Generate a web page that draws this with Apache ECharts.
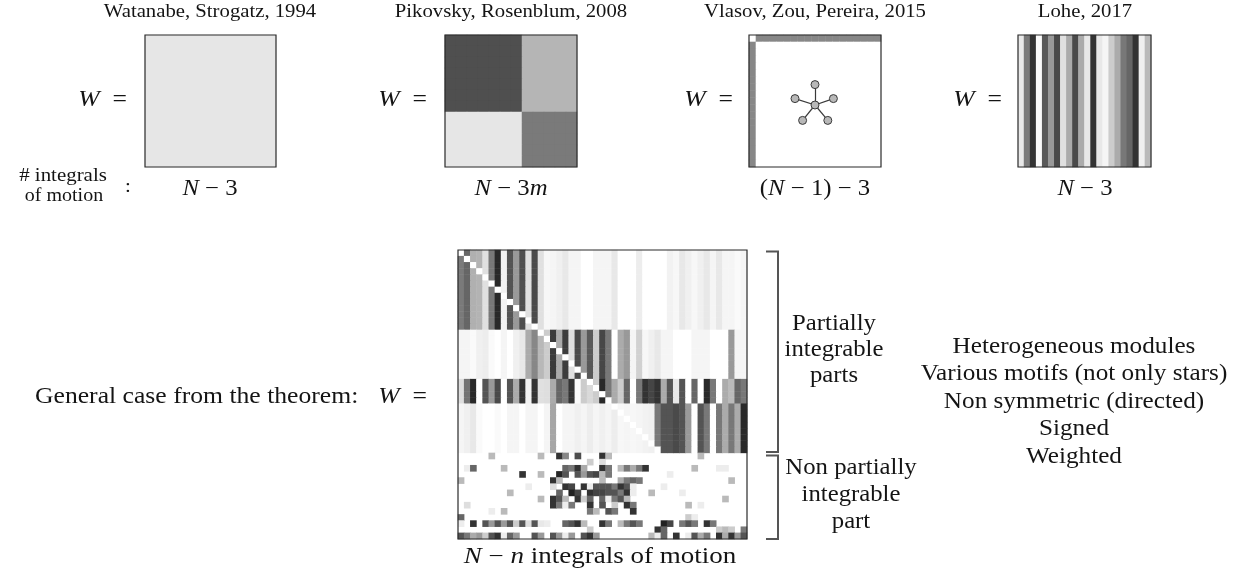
<!DOCTYPE html>
<html><head><meta charset="utf-8">
<script src="https://cdn.jsdelivr.net/npm/echarts@6.0.0/dist/echarts.min.js"></script>
<style>html,body{margin:0;padding:0;background:#fff}#c{width:1242px;height:578px}</style>
</head><body><div id="c"></div>
<script>
// ---------------- DATA ----------------
const panelTitles = ['Watanabe, Strogatz, 1994', 'Pikovsky, Rosenblum, 2008', 'Vlasov, Zou, Pereira, 2015', 'Lohe, 2017'];
const panelCounts = ['{i|N} − 3', '{i|N} − 3{i|m}', '({i|N} − 1) − 3', '{i|N} − 3'];

// Watanabe–Strogatz: uniform coupling (darkness 0..1)
const wsValue = 0.10;
// Pikovsky–Rosenblum: two-population blocks
const prBlockSizes = [7, 5];
const prBlockValues = [[0.69, 0.29], [0.10, 0.52]];
// Vlasov–Zou–Pereira: star hub row / column
const vzpSize = 19;
const vzpHubValue = 0.47;
const starNodes = [[0, -0.1], [0, 0.92], [-1.0, 0.22], [0.92, 0.22], [-0.62, -0.87], [0.64, -0.87]];
const starLinks = [[0, 1], [0, 2], [0, 3], [0, 4], [0, 5]];
// Lohe: column stripes
const loheColumns = [0.09, 0.52, 0.80, 0.02, 0.65, 0.40, 0.71, 0.12, 0.33, 0.71, 0.33, 0.09, 0.80, 0.09, 0.04, 0.20, 0.33, 0.53, 0.60, 0.80, 0.06, 0.27];

// General case, N = 47
const bigN = 47;
const moduleSizes = [13, 8, 4, 8];
const module1Cols = [0.52, 0.60, 0.31, 0.30, 0.12, 0.53, 0.84, 0.05, 0.67, 0.40, 0.69, 0.12, 0.71, 0.12, 0.03, 0.04, 0.06, 0.09, 0.04, 0.04, 0, 0, 0.04, 0.04, 0.04, 0.09, 0, 0, 0, 0.07, 0, 0, 0, 0, 0.05, 0.03, 0.09, 0.06, 0.03, 0.06, 0.09, 0.04, 0.09, 0.04, 0.04, 0.02, 0.04];
const module2Cols = [0.04, 0.04, 0.02, 0.06, 0.07, 0.02, 0, 0.04, 0, 0.06, 0.09, 0.33, 0.47, 0.28, 0.20, 0.77, 0.33, 0.76, 0.12, 0.71, 0.40, 0.65, 0.20, 0.72, 0.53, 0, 0.33, 0.40, 0.04, 0.18, 0.03, 0.06, 0.09, 0.04, 0.04, 0, 0, 0, 0.04, 0.04, 0.04, 0, 0, 0, 0.40, 0.04, 0.04];
const module3Cols = [0.13, 0.55, 0.84, 0, 0.67, 0.40, 0.71, 0, 0.67, 0.33, 0.80, 0.05, 0.80, 0.12, 0.13, 0.33, 0.60, 0.53, 0.80, 0.02, 0.20, 0.15, 0.20, 0.84, 0.53, 0.33, 0.20, 0.60, 0, 0.53, 0.80, 0.73, 0.80, 0.33, 0.67, 0.09, 0.67, 0, 0.60, 0, 0.84, 0.53, 0, 0.33, 0.27, 0.60, 0.53];
const module4Cols = [0.04, 0.06, 0.09, 0.02, 0, 0, 0.02, 0, 0.04, 0.04, 0, 0.04, 0.04, 0, 0.04, 0.35, 0, 0.04, 0.04, 0.06, 0.04, 0.07, 0.04, 0.06, 0.04, 0.07, 0.03, 0.04, 0.03, 0.04, 0.05, 0.06, 0.53, 0.67, 0.67, 0.71, 0.67, 0.40, 0, 0.67, 0.53, 0, 0.53, 0.33, 0.53, 0.33, 0.84];
// non partially integrable rows 33..46 : [row, col, darkness]
const restCells = [
 [33,5,.27],[33,13,.27],[33,16,.8],[33,17,.47],[33,19,.7],[33,23,.8],[33,24,.27],[33,39,.27],
 [34,21,.2],[34,23,.13],
 [35,1,.07],[35,2,.6],[35,7,.27],[35,17,.6],[35,18,.53],[35,19,.8],[35,20,.33],[35,23,.8],[35,24,.53],[35,26,.27],[35,27,.53],[35,28,.33],[35,29,.53],[35,30,.8],[35,38,.27],[35,42,.07],[35,43,.07],
 [36,10,.8],[36,13,.27],[36,16,.85],[36,17,.67],[36,19,.67],[36,20,.4],[36,21,.67],[36,22,.73],[36,23,.27],[36,24,.53],[36,34,.07],
 [37,0,.27],[37,15,.8],[37,16,.27],[37,23,.27],[37,26,.33],[37,27,.53],[37,28,.6],[37,29,.53],[37,44,.27],
 [38,11,.07],[38,15,.13],[38,17,.8],[38,18,.73],[38,20,.8],[38,21,.07],[38,22,.67],[38,23,.67],[38,24,.67],[38,25,.53],[38,26,.8],[38,27,.67],[38,28,.07],[38,33,.07],
 [39,8,.27],[39,16,.6],[39,18,.87],[39,19,.73],[39,21,.8],[39,22,.73],[39,23,.73],[39,24,.67],[39,25,.67],[39,26,.53],[39,27,.8],[39,28,.07],[39,31,.27],[39,36,.07],
 [40,13,.27],[40,15,.8],[40,16,.67],[40,17,.27],[40,19,.8],[40,20,.2],[40,21,.6],[40,23,.6],[40,24,.07],[40,25,.53],[40,26,.67],[40,27,.27],[40,43,.27],
 [41,1,.13],[41,15,.8],[41,16,.53],[41,17,.07],[41,18,.53],[41,21,.8],[41,23,.67],[41,25,.2],[41,27,.8],[41,28,.53],[41,37,.27],[41,39,.07],
 [42,5,.07],[42,7,.27],[42,21,.53],[42,22,.27],[42,24,.67],[42,25,.53],[42,28,.8],
 [43,0,.6],[43,37,.2],[43,38,.07],
 [44,0,.07],[44,2,.8],[44,4,.67],[44,5,.4],[44,6,.67],[44,7,.4],[44,8,.67],[44,9,.2],[44,10,.67],[44,11,.13],[44,12,.67],[44,13,.09],[44,14,.07],[44,17,.6],[44,18,.67],[44,19,.8],[44,20,.27],[44,23,.8],[44,24,.53],[44,26,.27],[44,27,.53],[44,28,.67],[44,29,.53],[44,33,.87],[44,34,.73],[44,36,.53],[44,37,.67],[44,38,.53],[44,40,.8],[44,41,.53],
 [45,21,.2],[45,32,.8],[45,33,.6],[45,42,.2],[45,43,.27],[45,44,.2],[45,46,.53],
 [46,0,.67],[46,1,.53],[46,2,.33],[46,3,.4],[46,4,.2],[46,5,.67],[46,6,.8],[46,7,.07],[46,8,.6],[46,9,.4],[46,12,.67],[46,13,.4],[46,15,.67],[46,16,.4],[46,17,.07],[46,18,.4],[46,20,.67],[46,21,.8],[46,22,.4],[46,31,.27],[46,32,.07],[46,33,.6],[46,35,.8],[46,37,.07],[46,38,.67],[46,39,.33],[46,40,.53],[46,42,.8],[46,43,.33],[46,44,.8],[46,45,.4],[46,46,.67]
];
const bracketLabels = [['Partially', 'integrable', 'parts'], ['Non partially', 'integrable', 'part']];
const propertyList = ['Heterogeneous modules', 'Various motifs (not only stars)', 'Non symmetric (directed)', 'Signed', 'Weighted'];

// ---------------- BUILD ----------------
const range = n => Array.from({length: n}, (_, i) => i);
const wsData = [[0, 0, wsValue]];
const prN = prBlockSizes[0] + prBlockSizes[1];
const prData = [];
for (let r = 0; r < prN; r++) for (let c = 0; c < prN; c++) {
  prData.push([c, r, prBlockValues[r < prBlockSizes[0] ? 0 : 1][c < prBlockSizes[0] ? 0 : 1]]);
}
const vzpData = [];
for (let r = 0; r < vzpSize; r++) for (let c = 0; c < vzpSize; c++) {
  vzpData.push([c, r, (r === 0 && c === 0) ? 0 : ((r === 0 || c === 0) ? vzpHubValue : 0)]);
}
const loheData = loheColumns.map((v, c) => [c, 0, v]);
const moduleCols = [module1Cols, module2Cols, module3Cols, module4Cols];
const bigData = [];
let start = 0;
moduleSizes.forEach((sz, m) => {
  for (let r = start; r < start + sz; r++) for (let c = 0; c < bigN; c++) {
    bigData.push([c, r, r === c ? 0 : moduleCols[m][c]]);
  }
  start += sz;
});
restCells.forEach(([r, c, v]) => bigData.push([c, r, v]));

const FONT = '"Liberation Serif", "Times New Roman", serif';
const BOX = '#2b2b2b';
const grids = [
  {left: 145, top: 35, width: 131, height: 132},
  {left: 445, top: 35, width: 132, height: 132},
  {left: 749, top: 35, width: 132, height: 132},
  {left: 1018, top: 35, width: 133, height: 132},
  {left: 458, top: 250, width: 289, height: 289},
  {left: 749, top: 35, width: 132, height: 132}
].map((g, i) => Object.assign(g, i < 5 ? {show: true, z: 10, backgroundColor: 'rgba(0,0,0,0)', borderColor: BOX, borderWidth: 1.2} : {show: false}));

const catX = (gi, n) => ({type: 'category', gridIndex: gi, data: range(n), show: false});
const catY = (gi, n) => ({type: 'category', gridIndex: gi, data: range(n), show: false, inverse: true});
const xAxes = [catX(0, 1), catX(1, prN), catX(2, vzpSize), catX(3, loheColumns.length), catX(4, bigN),
  {type: 'value', gridIndex: 5, min: -3.3, max: 3.3, show: false}];
const yAxes = [catY(0, 1), catY(1, prN), catY(2, vzpSize), catY(3, 1), catY(4, bigN),
  {type: 'value', gridIndex: 5, min: -3.2, max: 3.4, show: false}];

const hm = (i, data) => ({type: 'heatmap', xAxisIndex: i, yAxisIndex: i, data, itemStyle: {borderWidth: 0}, emphasis: {disabled: true}, progressive: 0});

// text helper: Liberation Serif stretched slightly to approach Computer Modern widths
const MAIN = 22.5, SMALL = 18.5, STRETCH = 1.1;
function txt(x, y, text, size, align, sx) {
  return {
    type: 'text', x, y, silent: true, scaleX: sx || STRETCH,
    style: {text, fontSize: size, fontFamily: FONT, fill: '#141414', align: align || 'center', verticalAlign: 'middle',
      rich: {i: {fontStyle: 'italic', fontSize: size, fontFamily: FONT, fill: '#141414'}}}
  };
}
const graphics = [];
const titleX = [210, 511, 815, 1085];
const wRight = [127, 427, 733, 1002];
panelTitles.forEach((t, i) => graphics.push(txt(titleX[i], 12, t, SMALL, 'center', 1.12)));
panelCounts.forEach((t, i) => graphics.push(txt(titleX[i], 189, t, MAIN)));
wRight.forEach(x => graphics.push(txt(x, 100, '{i|W}  =', MAIN, 'right', 1.14)));
graphics.push(txt(63, 176, '# integrals', SMALL, 'center', 1.13));
graphics.push(txt(64, 196, 'of motion', SMALL, 'center', 1.08));
graphics.push(txt(128, 187, ':', SMALL, 'center', 1.13));
graphics.push(txt(35, 397, 'General case from the theorem:', MAIN, 'left', 1.14));
graphics.push(txt(427, 397, '{i|W}  =', MAIN, 'right', 1.14));
graphics.push(txt(600, 557, '{i|N} − {i|n} integrals of motion', MAIN, 'center', 1.2));
bracketLabels[0].forEach((t, k) => graphics.push(txt(834, 324 + 26 * k, t, MAIN)));
bracketLabels[1].forEach((t, k) => graphics.push(txt(851, 468 + 27 * k, t, MAIN)));
propertyList.forEach((t, k) => graphics.push(txt(1074, 347 + 27.4 * k, t, MAIN, 'center', 1.12)));
graphics.push({type: 'polyline', silent: true, shape: {points: [[766, 251.5], [778, 251.5], [778, 452], [766, 452]]}, style: {stroke: '#555', lineWidth: 2, fill: null}});
graphics.push({type: 'polyline', silent: true, shape: {points: [[766, 455.5], [778, 455.5], [778, 539], [766, 539]]}, style: {stroke: '#555', lineWidth: 2, fill: null}});

const chart = echarts.init(document.getElementById('c'), null, {renderer: 'canvas'});
chart.setOption({
  animation: false,
  backgroundColor: '#fff',
  grid: grids,
  xAxis: xAxes,
  yAxis: yAxes,
  visualMap: {type: 'continuous', show: false, min: 0, max: 1, dimension: 2, seriesIndex: [0, 1, 2, 3, 4], inRange: {color: ['#ffffff', '#000000']}},
  series: [
    hm(0, wsData), hm(1, prData), hm(2, vzpData), hm(3, loheData), hm(4, bigData),
    {type: 'graph', coordinateSystem: 'cartesian2d', xAxisIndex: 5, yAxisIndex: 5, data: starNodes, z: 5,
     links: starLinks.map(([s, t]) => ({source: s, target: t})),
     symbol: 'circle', symbolSize: 8, itemStyle: {color: '#b8b8b8', borderColor: '#3a3a3a', borderWidth: 1},
     lineStyle: {color: '#3a3a3a', width: 1.2, opacity: 1}, emphasis: {disabled: true}, silent: true}
  ],
  graphic: graphics
});
</script></body></html>
